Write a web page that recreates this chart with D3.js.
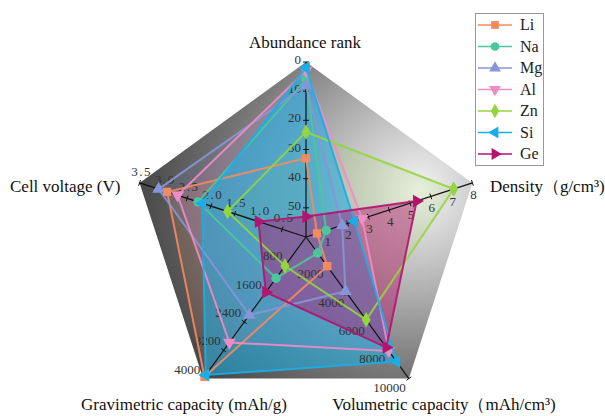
<!DOCTYPE html>
<html>
<head>
<meta charset="utf-8">
<script src="https://cdn.jsdelivr.net/npm/d3@7"></script>
<style>
  body { margin: 0; background: #fff; }
  text { font-family: "Liberation Serif", "Times New Roman", serif; }
</style>
</head>
<body>
<div id="chart"></div>
<script>
// axes, clockwise from the top
let axisNames = ["Abundance rank", "Density\uFF08g/cm\u00B3)", "Volumetric capacity\uFF08mAh/cm\u00B3)",
                 "Gravimetric capacity (mAh/g)", "Cell voltage (V)"];

let elements = ["Li", "Na", "Mg", "Al", "Zn", "Si", "Ge"];
let abundance = [33, 6, 8, 3, 24, 2, 53];
let density = [0.53, 0.97, 1.74, 2.7, 7.1, 2.33, 5.32];
let volumetric = [2062, 1131, 3833, 8046, 5851, 8800, 7800];
let gravimetric = [3950, 1166, 2205, 2980, 820, 3900, 1560];
let voltage = [2.92, 2.27, 3.1, 2.7, 1.65, 2.18, 1.0];

let abundanceTicks = [0, 10, 20, 30, 40, 50];
let densityTicks = [1, 2, 3, 4, 5, 6, 7, 8];
let volumetricTicks = [2000, 4000, 6000, 8000, 10000];
let gravimetricTicks = [800, 1600, 2400, 3200, 4000];
let voltageTicks = [0.5, 1.0, 1.5, 2.0, 2.5, 3.0, 3.5];

let colors = ["#f5895f", "#4cc79c", "#8696d6", "#f08cc4", "#93d540", "#1aaee8", "#b4136f"];
let symbols = ["square", "circle", "up", "down", "diamond", "left", "right"];

function makeGraph() {
    let w = 605, h = 416;
    let cx = 306, cy = 237, R = 175;

    let svg = d3.select('#chart')
        .append('svg')
        .attr('width', w)
        .attr('height', h);

    // one radial scale per axis
    let scales = [
        d3.scaleLinear().domain([60, 0]).range([0, R]),
        d3.scaleLinear().domain([0, 8]).range([0, R]),
        d3.scaleLinear().domain([0, 10000]).range([0, R]),
        d3.scaleLinear().domain([0, 4000]).range([0, R]),
        d3.scaleLinear().domain([0, 3.5]).range([0, R])
    ];
    let angles = d3.range(5).map(i => (-90 + i * 72) * Math.PI / 180);
    let pt = (i, v) => [cx + Math.cos(angles[i]) * scales[i](v), cy + Math.sin(angles[i]) * scales[i](v)];
    let vertex = i => [cx + Math.cos(angles[i]) * R, cy + Math.sin(angles[i]) * R];

    // background pentagon
    let defs = svg.append('defs');
    let grad = defs.append('radialGradient')
        .attr('id', 'bg')
        .attr('gradientUnits', 'userSpaceOnUse')
        .attr('cx', 400).attr('cy', 195).attr('r', 290)
        .attr('fx', 420).attr('fy', 190);
    grad.append('stop').attr('offset', 0).attr('stop-color', '#f4f4f4');
    grad.append('stop').attr('offset', 0.25).attr('stop-color', '#c4c4c4');
    grad.append('stop').attr('offset', 0.6).attr('stop-color', '#7a7a7a');
    grad.append('stop').attr('offset', 1).attr('stop-color', '#383838');

    svg.append('polygon')
        .attr('points', d3.range(5).map(i => vertex(i).join(',')).join(' '))
        .attr('fill', 'url(#bg)');

    let line = d3.line().curve(d3.curveLinearClosed);
    let series = elements.map((name, k) => ({
        name: name,
        k: k,
        pts: [pt(0, abundance[k]), pt(1, density[k]), pt(2, volumetric[k]),
              pt(3, gravimetric[k]), pt(4, voltage[k])]
    }));

    // filled areas
    svg.selectAll('.area')
        .data(series)
        .enter()
        .append('path')
        .attr('d', d => line(d.pts))
        .attr('fill', d => colors[d.k])
        .attr('fill-opacity', d => d.name === 'Si' ? 0.55 : (d.name === 'Ge' ? 0.45 : 0.14))
        .attr('stroke', 'none');

    // axes
    let allTicks = [abundanceTicks, densityTicks, volumetricTicks, gravimetricTicks, voltageTicks];
    let labelPos = [
        {anchor: 'end', dx: -5, dy: 2},
        {anchor: 'middle', dx: 1, dy: 16},
        {anchor: 'end', dx: -3, dy: 13},
        {anchor: 'end', dx: -3, dy: -5},
        {anchor: 'middle', dx: 2, dy: -7}
    ];
    let fmt = [d3.format('d'), d3.format('d'), d3.format('d'), d3.format('d'), d3.format('.1f')];

    d3.range(5).forEach(i => {
        let g = svg.append('g');
        let v = vertex(i);
        g.append('line')
            .attr('x1', cx).attr('y1', cy)
            .attr('x2', v[0]).attr('y2', v[1])
            .attr('stroke', '#111')
            .attr('stroke-width', 1.2);
        let nx = -Math.sin(angles[i]), ny = Math.cos(angles[i]);
        allTicks[i].forEach(t => {
            let p = pt(i, t);
            g.append('line')
                .attr('x1', p[0] - nx * 3).attr('y1', p[1] - ny * 3)
                .attr('x2', p[0] + nx * 3).attr('y2', p[1] + ny * 3)
                .attr('stroke', '#111');
            g.append('text')
                .attr('x', p[0] + labelPos[i].dx)
                .attr('y', p[1] + labelPos[i].dy)
                .attr('text-anchor', labelPos[i].anchor)
                .attr('font-size', 13)
                .attr('letter-spacing', i === 4 ? 1.5 : 0)
                .attr('fill', '#333')
                .text(fmt[i](t));
        });
    });

    // lines + markers
    let symbolType = {
        square: d3.symbolSquare, circle: d3.symbolCircle, diamond: d3.symbolDiamond,
        up: d3.symbolTriangle, down: d3.symbolTriangle, left: d3.symbolTriangle, right: d3.symbolTriangle
    };
    let symbolRot = {square: 0, circle: 0, diamond: 0, up: 0, down: 180, left: -90, right: 90};

    let groups = svg.selectAll('.series')
        .data(series)
        .enter()
        .append('g');

    groups.append('path')
        .attr('d', d => line(d.pts))
        .attr('fill', 'none')
        .attr('stroke', d => colors[d.k])
        .attr('stroke-width', 2)
        .attr('stroke-opacity', 0.9);

    groups.selectAll('.mark')
        .data(d => d.pts.map(p => ({p: p, k: d.k})))
        .enter()
        .append('path')
        .attr('d', d => d3.symbol().type(symbolType[symbols[d.k]]).size(70)())
        .attr('transform', d => `translate(${d.p[0]},${d.p[1]}) rotate(${symbolRot[symbols[d.k]]})`)
        .attr('fill', d => colors[d.k]);

    // axis titles
    let titles = [
        {x: 305, y: 48, anchor: 'middle'},
        {x: 490, y: 192, anchor: 'start'},
        {x: 444, y: 410, anchor: 'middle'},
        {x: 184, y: 410, anchor: 'middle'},
        {x: 10, y: 192, anchor: 'start'}
    ];
    titles.forEach((t, i) => {
        svg.append('text')
            .attr('x', t.x).attr('y', t.y)
            .attr('text-anchor', t.anchor)
            .attr('font-size', 17)
            .attr('fill', '#111')
            .text(axisNames[i]);
    });

    // legend
    let lg = svg.append('g');
    lg.append('rect')
        .attr('x', 475.5).attr('y', 13.5)
        .attr('width', 68).attr('height', 152)
        .attr('fill', '#fff')
        .attr('stroke', '#999');
    let items = lg.selectAll('.item')
        .data(elements)
        .enter()
        .append('g')
        .attr('transform', (d, k) => `translate(0, ${25 + k * 21.5})`);
    items.append('line')
        .attr('x1', 478).attr('x2', 512)
        .attr('stroke', (d, k) => colors[k])
        .attr('stroke-width', 1.5);
    items.append('path')
        .attr('d', (d, k) => d3.symbol().type(symbolType[symbols[k]]).size(60)())
        .attr('transform', (d, k) => `translate(495,0) rotate(${symbolRot[symbols[k]]})`)
        .attr('fill', (d, k) => colors[k]);
    items.append('text')
        .attr('x', 520).attr('y', 5)
        .attr('font-size', 16)
        .attr('fill', '#222')
        .text(d => d);
}

window.onload = () => {
    makeGraph();
}
</script>
</body>
</html>
